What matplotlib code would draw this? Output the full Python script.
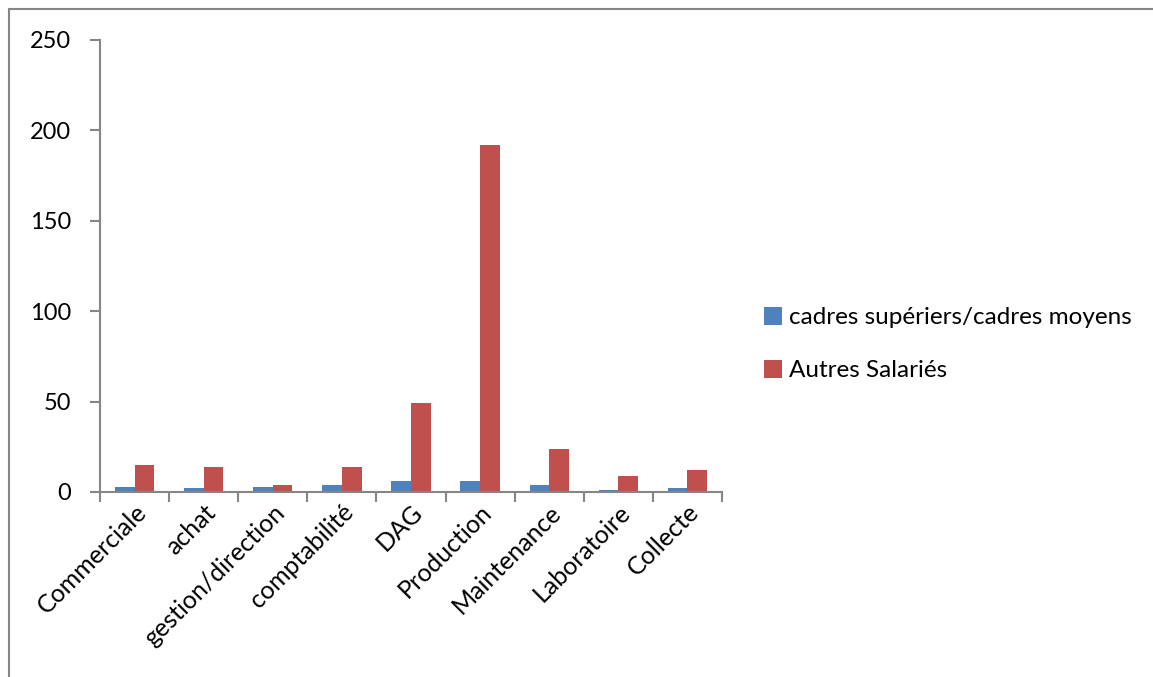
import matplotlib
matplotlib.use("Agg")
import matplotlib.pyplot as plt
import numpy as np
from matplotlib.patches import Rectangle

categories = ["Commerciale", "achat", "gestion/direction", "comptabilité", "DAG",
              "Production", "Maintenance", "Laboratoire", "Collecte"]
cadres = [3, 2, 3, 4, 6, 6, 4, 1, 2]
autres = [15, 14, 4, 14, 49, 192, 24, 9, 12]
series_names = ["cadres supériers/cadres moyens", "Autres Salariés"]
yticks = [0, 50, 100, 150, 200, 250]

plt.rcParams['font.family'] = ['Lato', 'DejaVu Sans']

W, H = 1153, 677
fig = plt.figure(figsize=(W / 100, H / 100), dpi=100)
fig.patches.append(Rectangle((9 / W, -0.1), 1.2, 1 - 9 / H + 0.1, transform=fig.transFigure,
                             fill=False, edgecolor='#868686', linewidth=1.5))

ax = fig.add_axes([100 / W, 1 - 492 / H, 622 / W, 452 / H])
x = np.arange(len(categories))
bw = 0.285
grey = '#868686'
ax.bar(x - bw / 2, cadres, bw, color='#4F81BD', label=series_names[0])
ax.bar(x + bw / 2, autres, bw, color='#C0504D', label=series_names[1])

ax.set_xlim(-0.5, len(categories) - 0.5)
ax.set_ylim(0, 250)
ax.set_yticks(yticks)
ax.set_yticklabels([str(v) for v in yticks], fontsize=17)
ax.set_xticks(x)
ax.set_xticklabels(categories, rotation=45, ha='right', rotation_mode='anchor', fontsize=18)
ax.set_xticks(np.arange(len(categories) + 1) - 0.5, minor=True)
ax.tick_params(axis='x', which='major', length=0, pad=6)
ax.tick_params(axis='x', which='minor', length=7, color=grey, width=1.5)
ax.tick_params(axis='y', length=7, color=grey, width=1.5, pad=14)
for s in ['top', 'right']:
    ax.spines[s].set_visible(False)
for s in ['left', 'bottom']:
    ax.spines[s].set_color(grey)
    ax.spines[s].set_linewidth(1.5)

fig.legend(loc='center left', bbox_to_anchor=(742 / W, 1 - 344 / H), frameon=False,
           fontsize=17.5, handlelength=0.75, handleheight=0.75, handletextpad=0.3,
           labelspacing=1.3)

fig.savefig("out.png", dpi=100)
